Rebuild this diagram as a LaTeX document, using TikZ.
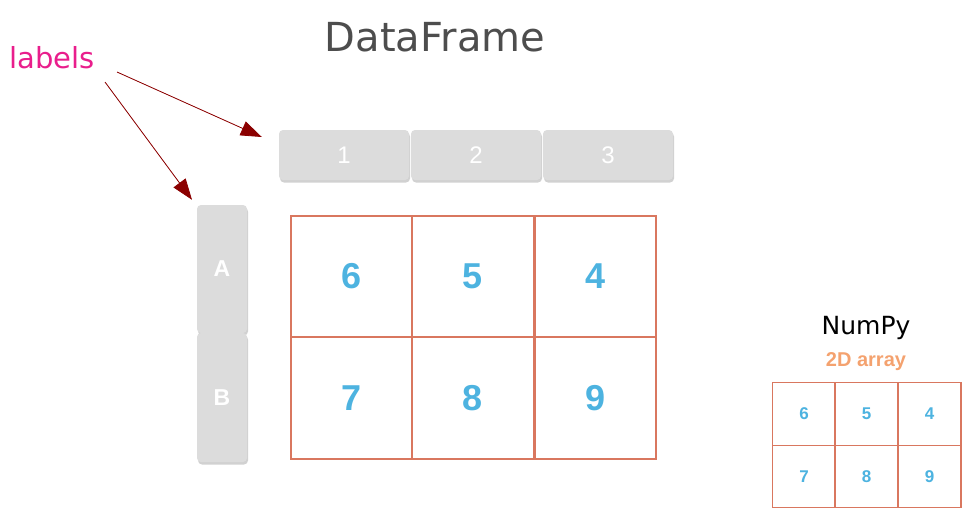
\documentclass[tikz,border=0pt]{standalone}
\usepackage{fontspec}
\setmainfont{DejaVu Sans}
\newfontfamily\arialfont{Liberation Sans}
\usetikzlibrary{positioning,arrows.meta,shadows,calc}

\definecolor{titlegray}{HTML}{4D4D4D}
\definecolor{labelpink}{HTML}{E91E8C}
\definecolor{arrowred}{HTML}{8B0000}
\definecolor{boxgray}{HTML}{DCDCDC}
\definecolor{cellred}{HTML}{D9775F}
\definecolor{digitblue}{HTML}{4DB3E0}
\definecolor{arrayorange}{HTML}{F4A26F}

\begin{document}
\begin{tikzpicture}[x=1pt, y=-1pt]

 \tikzset{
   hdrbox/.style={rectangle, rounded corners=4pt, fill=boxgray, text=white, inner sep=0pt,
     drop shadow={shadow xshift=1pt, shadow yshift=-2.5pt, opacity=0.3, fill=black!60},
     font=\arialfont\fontsize{24}{26}\selectfont},
   rowbox/.style={hdrbox, font=\arialfont\bfseries\fontsize{23}{26}\selectfont},
   cell/.style={rectangle, draw=cellred, line width=1.6pt, fill=white, text=digitblue,
     minimum width=121.5pt, minimum height=121.5pt, inner sep=0pt, outer sep=0pt,
     font=\arialfont\bfseries\fontsize{36}{40}\selectfont},
   smallcell/.style={cell, line width=1.1pt, minimum width=63pt, minimum height=62.5pt,
     font=\arialfont\bfseries\fontsize{17}{20}\selectfont},
   pointer/.style={-{Triangle[length=21pt, width=15pt]}, draw=arrowred, fill=arrowred, line width=0.8pt}
 }

 \useasboundingbox (0,0) rectangle (970,515);

 % Row and column positions (pixels)
 \def\rowHdr{155}
 \def\rowA{276.5}
 \def\rowB{398}
 \def\rowSmallA{414}
 \def\rowSmallB{476.5}

 % Titles
 \node[text=titlegray, font=\fontsize{40}{44}\selectfont] (title) at (435,37) {DataFrame};
 \node[text=labelpink, font=\fontsize{29}{32}\selectfont, anchor=west] (labels) at (6,58) {labels};

 % Column labels
 \node[hdrbox, minimum width=130pt, minimum height=50pt] (hdr1) at (344,\rowHdr) {1};
 \node[hdrbox, minimum width=130pt, minimum height=50pt] (hdr2) at (476,\rowHdr) {2};
 \node[hdrbox, minimum width=130pt, minimum height=50pt] (hdr3) at (608,\rowHdr) {3};

 % Row labels
 \node[rowbox, minimum width=50pt, minimum height=128pt] (lblA) at (222,269) {A};
 \node[rowbox, minimum width=50pt, minimum height=129pt] (lblB) at (222,397.5) {B};

 % DataFrame values
 \node[cell] (c11) at (351.5,\rowA) {6};
 \node[cell] (c12) at (473,\rowA) {5};
 \node[cell] (c13) at (595.5,\rowA) {4};
 \node[cell] (c21) at (351.5,\rowB) {7};
 \node[cell] (c22) at (473,\rowB) {8};
 \node[cell] (c23) at (595.5,\rowB) {9};

 % NumPy array
 \node[font=\fontsize{25}{28}\selectfont] (numpy) at (866,328) {NumPy};
 \node[text=arrayorange, font=\arialfont\bfseries\fontsize{20}{23}\selectfont] (array) at (866,362) {2D array};
 \node[smallcell] (s11) at (804,\rowSmallA) {6};
 \node[smallcell] (s12) at (866.5,\rowSmallA) {5};
 \node[smallcell] (s13) at (929.5,\rowSmallA) {4};
 \node[smallcell] (s21) at (804,\rowSmallB) {7};
 \node[smallcell] (s22) at (866.5,\rowSmallB) {8};
 \node[smallcell] (s23) at (929.5,\rowSmallB) {9};

 % Arrows
 \coordinate (fromHdr) at (117,72);
 \coordinate (fromRow) at (105,82);
 \coordinate (toHdr) at ($(hdr1.west)+(-17,-18)$);
 \coordinate (toRow) at ($(lblA.north)+(-30,-5)$);
 \draw[pointer] (fromHdr) -- (toHdr);
 \draw[pointer] (fromRow) -- (toRow);

\end{tikzpicture}
\end{document}
